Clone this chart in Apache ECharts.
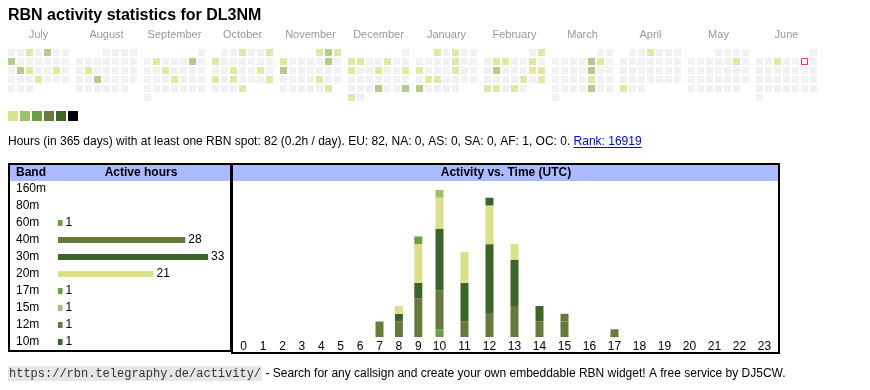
<!DOCTYPE html>
<html><head><meta charset="utf-8">
<script src="https://cdn.jsdelivr.net/npm/echarts/dist/echarts.min.js"></script>
<style>html,body{margin:0;padding:0;background:#fff}#c{width:870px;height:390px}</style>
</head><body><div id="c"></div>
<script>
// ---------- data ----------
const titleText = 'RBN activity statistics for DL3NM';
const monthNames = ['July','August','September','October','November','December','January','February','March','April','May','June'];
const monthKeys = ['2024-07','2024-08','2024-09','2024-10','2024-11','2024-12','2025-01','2025-02','2025-03','2025-04','2025-05','2025-06'];
const level1Days = ['2024-07-03','2024-07-17','2024-07-20','2024-07-25','2024-08-13','2024-09-03','2024-09-11','2024-09-19',
  '2024-10-03','2024-10-06','2024-10-07','2024-10-16','2024-10-19','2024-10-21','2024-10-23','2024-10-27','2024-10-31',
  '2024-11-01','2024-11-03','2024-11-04','2024-11-22','2024-11-30','2024-12-02','2024-12-03','2024-12-06','2024-12-09',
  '2024-12-12','2024-12-15','2024-12-30','2025-01-01','2025-01-03','2025-01-10','2025-01-13','2025-01-17','2025-01-21',
  '2025-01-22','2025-02-02','2025-02-04','2025-02-05','2025-02-08','2025-02-15','2025-02-16','2025-02-21','2025-02-23',
  '2025-02-24','2025-02-25','2025-02-27','2025-03-08','2025-03-21','2025-04-03','2025-04-28','2025-05-10','2025-06-04'];
const level2Days = ['2024-07-05','2024-07-08','2024-07-16','2024-08-21','2024-09-07','2024-11-02','2024-11-09','2024-11-11',
  '2024-12-26','2024-12-29','2025-01-27','2025-02-11','2025-03-07','2025-03-14','2025-03-28'];
const todayDate = '2025-06-07';
const summaryText = 'Hours (in 365 days) with at least one RBN spot: 82 (0.2h / day). EU: 82, NA: 0, AS: 0, SA: 0, AF: 1, OC: 0. ';
const rankText = 'Rank: 16919';
const footerUrl = 'https://rbn.telegraphy.de/activity/';
const footerText = ' - Search for any callsign and create your own embeddable RBN widget! A free service by DJ5CW.';

const bands = ['160m','80m','60m','40m','30m','20m','17m','15m','12m','10m'];
const bandHours = [0,0,1,28,33,21,1,1,1,1];
const hourLabels = ['0','1','2','3','4','5','6','7','8','9','10','11','12','13','14','15','16','17','18','19','20','21','22','23'];
const hours160m = [0,0,0,0,0,0,0,0,0,0,0,0,0,0,0,0,0,0,0,0,0,0,0,0];
const hours80m  = [0,0,0,0,0,0,0,0,0,0,0,0,0,0,0,0,0,0,0,0,0,0,0,0];
const hours60m  = [0,0,0,0,0,0,0,0,0,0,1,0,0,0,0,0,0,0,0,0,0,0,0,0];
const hours40m  = [0,0,0,0,0,0,0,2,2,5,5,2,3,4,2,2,0,1,0,0,0,0,0,0];
const hours30m  = [0,0,0,0,0,0,0,0,1,2,8,5,9,6,2,0,0,0,0,0,0,0,0,0];
const hours20m  = [0,0,0,0,0,0,0,0,1,5,4,4,5,2,0,0,0,0,0,0,0,0,0,0];
const hours17m  = [0,0,0,0,0,0,0,0,0,1,0,0,0,0,0,0,0,0,0,0,0,0,0,0];
const hours15m  = [0,0,0,0,0,0,0,0,0,0,1,0,0,0,0,0,0,0,0,0,0,0,0,0];
const hours12m  = [0,0,0,0,0,0,0,0,0,0,0,0,0,0,0,1,0,0,0,0,0,0,0,0];
const hours10m  = [0,0,0,0,0,0,0,0,0,0,0,0,1,0,0,0,0,0,0,0,0,0,0,0];
const bandHourSeries = [hours160m,hours80m,hours60m,hours40m,hours30m,hours20m,hours17m,hours15m,hours12m,hours10m];

// ---------- styles ----------
const bandColors = ['#000000','#9dc16a','#6a9f45','#667a3a','#3b6627','#dbe18b','#6a9f45','#9dc16a','#667a3a','#3b6627'];
const legendColors = ['#dbe18b','#9dc16a','#6a9f45','#667a3a','#3b6627','#000000'];
const levelColors = ['#eeeeee','#dbe18b','#9dc16a'];
const FONT = "'Liberation Sans', Arial, sans-serif";

function measure(text, font){
  const c = document.createElement('canvas').getContext('2d');
  c.font = font; return c.measureText(text).width;
}
function pad(n){return n<10?'0'+n:''+n;}

const chart = echarts.init(document.getElementById('c'), null, {renderer:'canvas'});

// calendars
const calendars = [], series = [], graphics = [];
monthKeys.forEach((mk, i) => {
  const left = 7 + 68*i;
  calendars.push({
    orient:'vertical', range: mk, left: left, top: 48, cellSize:[9,9],
    splitLine:{show:false}, itemStyle:{color:'transparent', borderWidth:0},
    dayLabel:{show:false, firstDay:1}, monthLabel:{show:false}, yearLabel:{show:false}
  });
  const [y, m] = mk.split('-').map(Number);
  const nd = new Date(y, m, 0).getDate();
  const data = [];
  for (let d = 1; d <= nd; d++) {
    const ds = mk + '-' + pad(d);
    const lvl = level2Days.includes(ds) ? 2 : (level1Days.includes(ds) ? 1 : 0);
    if (ds === todayDate) {
      data.push({value:[ds, lvl], symbolSize:6, itemStyle:{color:'#ffffff', borderColor:'#ff0000', borderWidth:1}});
    } else {
      data.push({value:[ds, lvl], itemStyle:{color: levelColors[lvl]}});
    }
  }
  series.push({type:'scatter', coordinateSystem:'calendar', calendarIndex:i, symbol:'rect', symbolSize:7,
    silent:true, animation:false, data});
  graphics.push({type:'text', x:left+31.5, y:35, style:{text:monthNames[i], font:'11px '+FONT, fill:'#999999',
    align:'center', textAlign:'center', verticalAlign:'middle', textVerticalAlign:'middle'}});
});

// title
graphics.push({type:'text', x:8, y:15.5, style:{text:titleText, font:'bold 16px '+FONT, fill:'#000',
  verticalAlign:'middle', textVerticalAlign:'middle'}});
// legend swatches
legendColors.forEach((c, i) => graphics.push({type:'rect', shape:{x:8+12*i, y:111, width:10, height:10}, style:{fill:c}}));
// summary line
const sumFont = '12px ' + FONT;
const sw = measure(summaryText, sumFont);
graphics.push({type:'text', x:8, y:142, style:{text:summaryText, font:sumFont, fill:'#000', verticalAlign:'middle', textVerticalAlign:'middle'}});
const rw = measure(rankText, sumFont);
graphics.push({type:'text', x:8+sw, y:142, style:{text:rankText, font:sumFont, fill:'#0000ee', verticalAlign:'middle', textVerticalAlign:'middle'}});
graphics.push({type:'line', shape:{x1:8+sw, y1:147.5, x2:8+sw+rw, y2:147.5}, style:{stroke:'#0000ee', lineWidth:1}});
// footer
const monoFont = '12px "Liberation Mono", monospace';
const uw = measure(footerUrl, monoFont);
graphics.push({type:'rect', shape:{x:8, y:366, width:uw+2, height:15}, style:{fill:'#e6e6e6'}});
graphics.push({type:'text', x:9, y:374, style:{text:footerUrl, font:monoFont, fill:'#333', verticalAlign:'middle', textVerticalAlign:'middle'}});
graphics.push({type:'text', x:10+uw, y:374, style:{text:footerText, font:'12px '+FONT, fill:'#000', verticalAlign:'middle', textVerticalAlign:'middle'}});

// table frames and headers
graphics.push({type:'rect', shape:{x:10, y:165, width:220, height:16}, style:{fill:'#aabbff'}});
graphics.push({type:'rect', shape:{x:233, y:165, width:545, height:16}, style:{fill:'#aabbff'}});
graphics.push({type:'rect', shape:{x:9, y:164, width:222, height:187}, style:{fill:'none', stroke:'#000', lineWidth:2}});
graphics.push({type:'rect', shape:{x:232, y:164, width:547, height:189}, style:{fill:'none', stroke:'#000', lineWidth:2}});
const hdrFont = 'bold 12px ' + FONT;
graphics.push({type:'text', x:16, y:173, style:{text:'Band', font:hdrFont, fill:'#000', verticalAlign:'middle', textVerticalAlign:'middle'}});
graphics.push({type:'text', x:141, y:173, style:{text:'Active hours', font:hdrFont, fill:'#000', align:'center', textAlign:'center', verticalAlign:'middle', textVerticalAlign:'middle'}});
graphics.push({type:'text', x:506, y:173, style:{text:'Activity vs. Time (UTC)', font:hdrFont, fill:'#000', align:'center', textAlign:'center', verticalAlign:'middle', textVerticalAlign:'middle'}});

// grids
const grids = [
  {left:58, top:180.5, width:150, height:170, containLabel:false, outerBoundsMode:'none'},
  {left:234, top:190, width:194, height:147, containLabel:false, outerBoundsMode:'none'},
  {left:427, top:190, width:350, height:147, containLabel:false, outerBoundsMode:'none'}
];
const hidden = {show:false};
const xAxes = [
  {gridIndex:0, type:'value', min:0, max:33, show:false},
  {gridIndex:1, type:'category', data:hourLabels.slice(0,10), axisLine:hidden, axisTick:hidden,
    axisLabel:{interval:0, margin:4, fontSize:12, color:'#000', fontFamily:FONT}},
  {gridIndex:2, type:'category', data:hourLabels.slice(10), axisLine:hidden, axisTick:hidden,
    axisLabel:{interval:0, margin:4, fontSize:12, color:'#000', fontFamily:FONT}}
];
const yAxes = [
  {gridIndex:0, type:'category', data:bands, inverse:true, axisLine:hidden, axisTick:hidden, splitLine:hidden,
    axisLabel:{align:'left', margin:42, fontSize:12, color:'#000', fontFamily:FONT}},
  {gridIndex:1, type:'value', min:0, max:19, show:false, splitLine:hidden},
  {gridIndex:2, type:'value', min:0, max:19, show:false, splitLine:hidden}
];
series.push({type:'bar', xAxisIndex:0, yAxisIndex:0, barWidth:6, silent:true, animation:false,
  data: bandHours.map((v, i) => ({value:v, itemStyle:{color:bandColors[i]}})),
  label:{show:true, position:'right', distance:3, fontSize:12, color:'#000', fontFamily:FONT,
    formatter: p => p.value > 0 ? String(p.value) : ''}});
bands.forEach((b, i) => {
  const arr = bandHourSeries[i];
  series.push({type:'bar', name:b, xAxisIndex:1, yAxisIndex:1, stack:'A', barWidth:8, silent:true, animation:false,
    itemStyle:{color:bandColors[i]}, data: arr.slice(0,10)});
  series.push({type:'bar', name:b+'_', xAxisIndex:2, yAxisIndex:2, stack:'B', barWidth:8, silent:true, animation:false,
    itemStyle:{color:bandColors[i]}, data: arr.slice(10)});
});

chart.setOption({
  animation:false,
  backgroundColor:'#ffffff',
  textStyle:{fontFamily:FONT},
  calendar: calendars,
  grid: grids, xAxis: xAxes, yAxis: yAxes,
  series: series,
  graphic: graphics
});
</script></body></html>
